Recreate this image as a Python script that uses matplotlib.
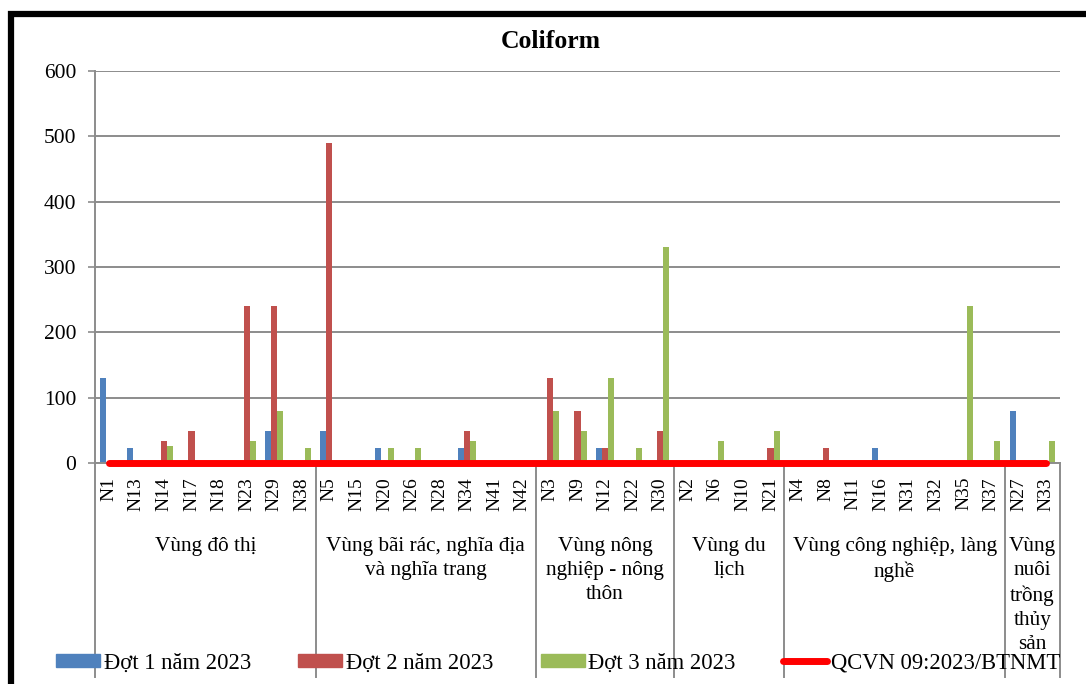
import numpy as np
import matplotlib.pyplot as plt
from matplotlib.patches import Rectangle, Patch
from matplotlib.lines import Line2D

plt.rcParams['font.family'] = ['Liberation Serif', 'DejaVu Serif']

# sampling points, grouped by zone
stations = ['N1', 'N13', 'N14', 'N17', 'N18', 'N23', 'N29', 'N38',
            'N5', 'N15', 'N20', 'N26', 'N28', 'N34', 'N41', 'N42',
            'N3', 'N9', 'N12', 'N22', 'N30',
            'N2', 'N6', 'N10', 'N21',
            'N4', 'N8', 'N11', 'N16', 'N31', 'N32', 'N35', 'N37',
            'N27', 'N33']
groups = ['Vùng đô thị', 'Vùng bãi rác, nghĩa địa\nvà nghĩa trang',
          'Vùng nông\nnghiệp - nông\nthôn', 'Vùng du\nlịch',
          'Vùng công nghiệp, làng\nnghề', 'Vùng\nnuôi\ntrồng\nthủy\nsản']
group_sizes = [8, 8, 5, 4, 8, 2]

dot1 = [130, 23, 0, 0, 0, 0, 49, 0,
        49, 0, 23, 0, 0, 23, 0, 0,
        0, 0, 23, 0, 0,
        0, 0, 0, 0,
        0, 0, 0, 23, 0, 0, 0, 0,
        79, 0]
dot2 = [0, 0, 33, 49, 0, 240, 240, 0,
        490, 0, 0, 0, 0, 49, 0, 0,
        130, 79, 23, 0, 49,
        0, 0, 0, 23,
        0, 23, 0, 0, 0, 0, 0, 0,
        0, 0]
dot3 = [0, 0, 26, 0, 0, 33, 79, 23,
        0, 0, 23, 23, 0, 33, 0, 0,
        79, 49, 130, 23, 330,
        0, 33, 0, 49,
        0, 0, 0, 0, 0, 0, 240, 33,
        0, 33]
qcvn = [0] * len(stations)

W, H = 1086, 684
fig = plt.figure(figsize=(W / 100, H / 100), dpi=100)
ax = fig.add_axes([95 / W, 1 - 463 / H, (1060 - 95) / W, (463 - 71) / H])

x = np.arange(len(stations))
bw = 0.22
c1, c2, c3 = '#4F81BD', '#C0504D', '#9BBB59'
ax.bar(x - bw, dot1, bw, color=c1, zorder=2)
ax.bar(x, dot2, bw, color=c2, zorder=2)
ax.bar(x + bw, dot3, bw, color=c3, zorder=2)
ax.plot(x, qcvn, color='#FF0000', lw=5, solid_capstyle='round', zorder=3, clip_on=False)

ax.set_xlim(-0.5, len(stations) - 0.5)
ax.set_ylim(0, 600)
ax.set_yticks(range(0, 601, 100))
ax.yaxis.grid(True, color='#8C8C8C', lw=1.4)
ax.set_axisbelow(True)
for s in ['top', 'right']:
    ax.spines[s].set_visible(False)
ax.spines['left'].set_color('#8C8C8C')
ax.spines['bottom'].set_color('#8C8C8C')
ax.spines['left'].set_linewidth(1.4)
ax.spines['bottom'].set_linewidth(1.4)
ax.tick_params(axis='y', length=5, width=1.2, color='#8C8C8C', pad=8.5, labelsize=15.5)
ax.set_xticks(x)
ax.set_xticklabels(stations, rotation=90, fontsize=14)
ax.tick_params(axis='x', length=0, pad=10)

fig.text(551 / W, 1 - 41 / H, 'Coliform', fontsize=18.5, fontweight='bold',
         ha='center', va='center')

# zone separators and zone names below the axis
trans = ax.get_xaxis_transform()
bounds = np.concatenate([[0], np.cumsum(group_sizes)]) - 0.5
y_end = -(677 - 463) / (463 - 71)
for b in bounds:
    ax.plot([b, b], [0, y_end], color='#8C8C8C', lw=1.4, transform=trans, clip_on=False)
y_lab = -(537 - 463) / (463 - 71)
for i, g in enumerate(groups):
    mid = (bounds[i] + bounds[i + 1]) / 2
    ax.text(mid, y_lab, g, transform=trans, ha='center', va='top', fontsize=15.3,
            linespacing=1.36)

handles = [Patch(color=c1), Patch(color=c2), Patch(color=c3),
           Line2D([0], [0], color='#FF0000', lw=5, solid_capstyle='round')]
labels = ['Đợt 1 năm 2023', 'Đợt 2 năm 2023', 'Đợt 3 năm 2023', 'QCVN 09:2023/BTNMT']
fig.legend(handles, labels, loc='center', bbox_to_anchor=(558 / W, 1 - 663 / H), ncol=4,
           frameon=False, fontsize=16.3, handlelength=1.95, handleheight=0.45,
           handletextpad=0.15, columnspacing=2.1, borderpad=0)

# outer black frame (cut off at right and bottom)
fig.patches.append(Rectangle((11 / W, -0.05), 1.1, 1.05 - 13.5 / H, transform=fig.transFigure,
                             fill=False, edgecolor='black', lw=4.5, zorder=10))

fig.savefig('out.png', dpi=100)
